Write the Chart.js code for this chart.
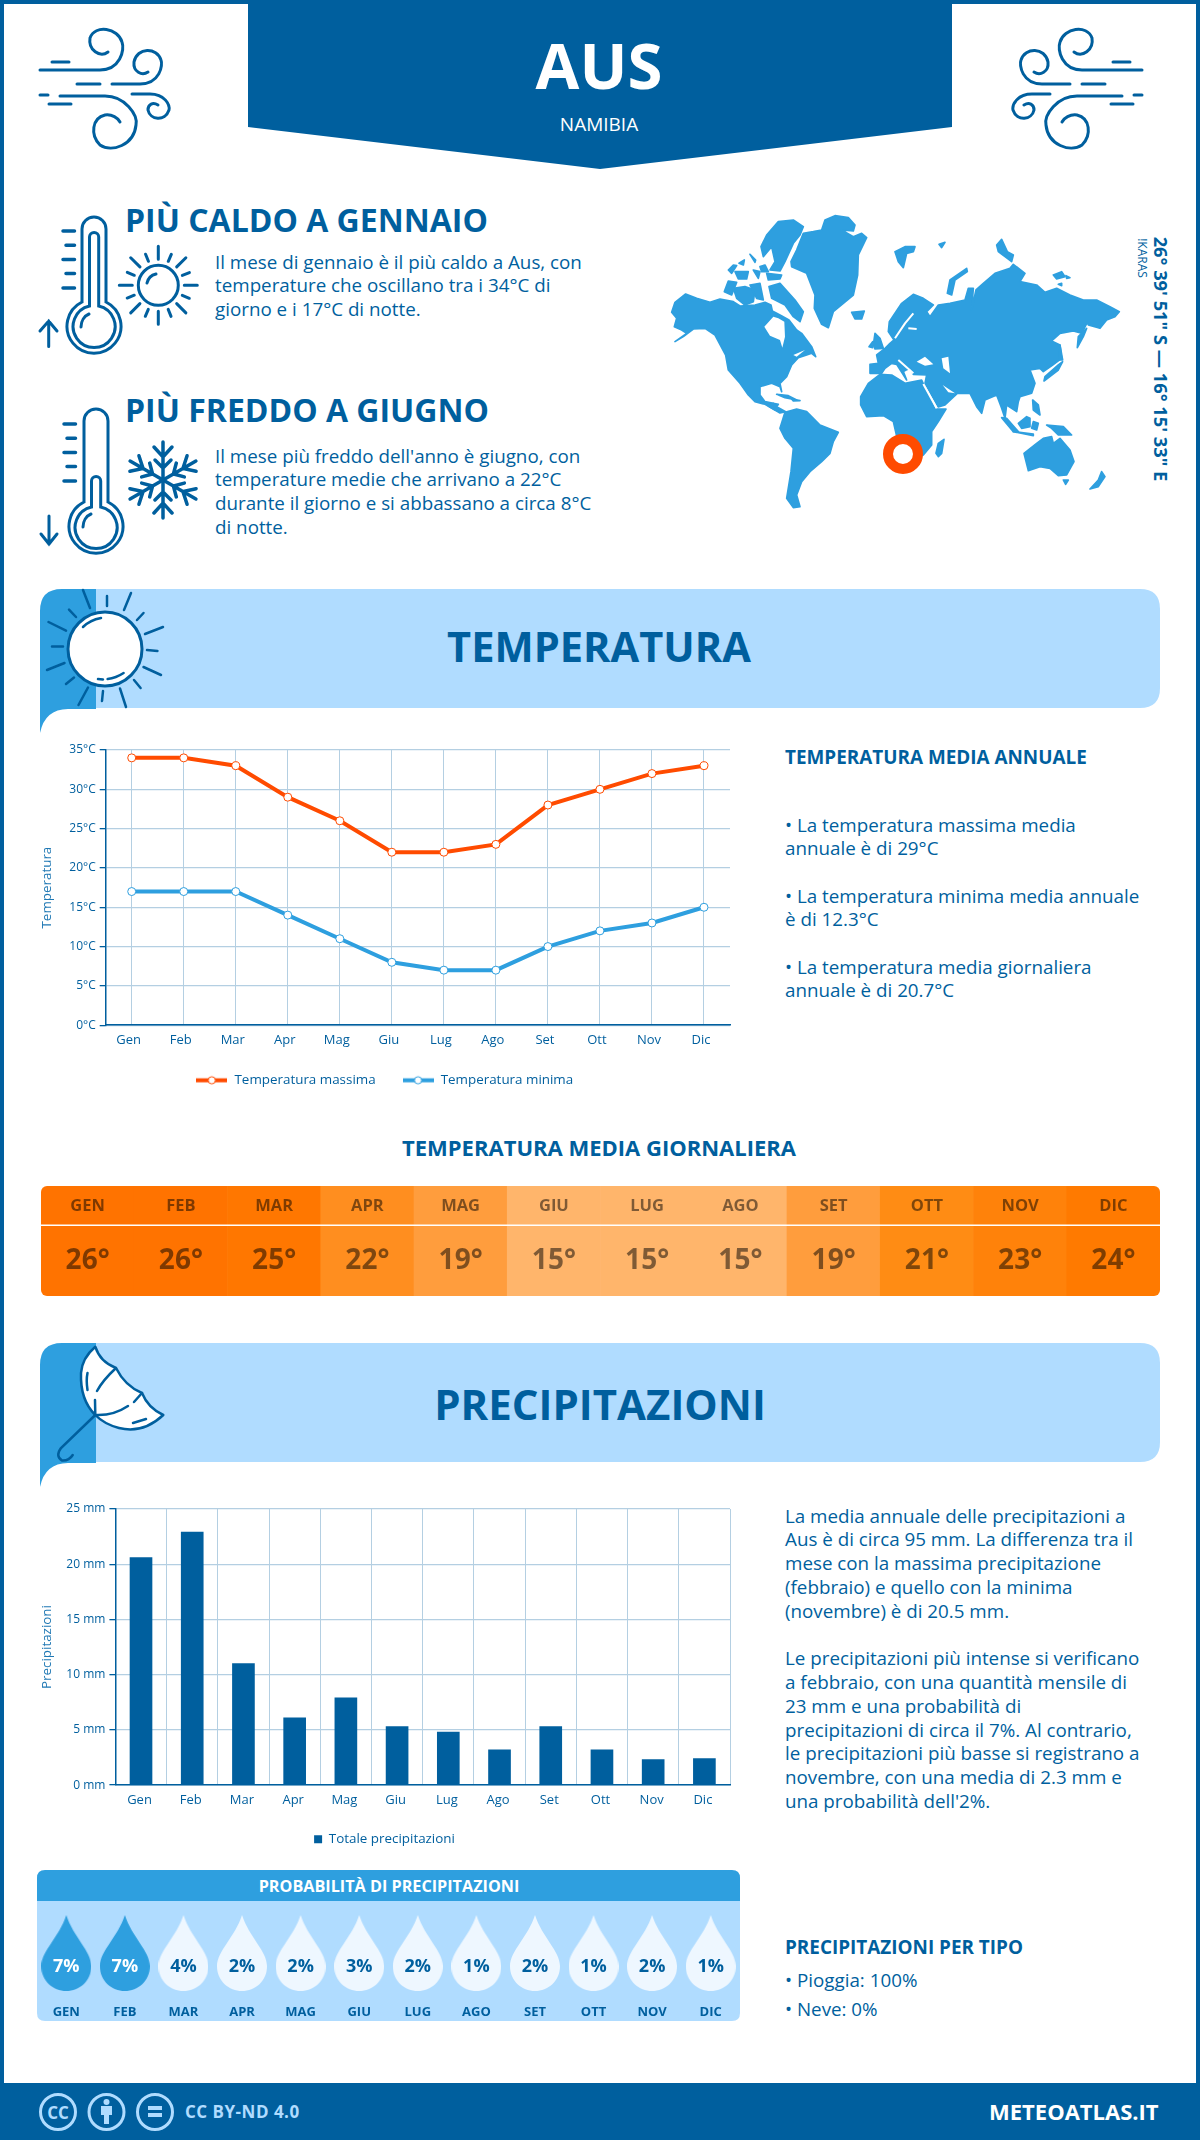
<!DOCTYPE html>
<html lang="it">
<head>
<meta charset="utf-8">
<title>Aus - Namibia</title>
<script src="https://cdn.jsdelivr.net/npm/chart.js@4"></script>
<style>
  html, body { margin: 0; padding: 0; background: #fff; }
  #page { position: relative; width: 1200px; height: 2140px; overflow: hidden; font-family: "Open Sans", sans-serif; color: #005f9e; }
  #art { position: absolute; left: 0; top: 0; }
  canvas { position: absolute; }
  .t { position: absolute; white-space: nowrap; line-height: 1; }
  .b { font-weight: 700; }
  .c { transform: translate(-50%, -50%); }
  .m { transform: translateY(-50%); }
  .body { font-size: 18.8px; }
  #heatChart { border-radius: 6px; }
</style>
</head>
<body>
<div id="page">

<svg id="art" width="1200" height="2140" viewBox="0 0 1200 2140">
  <defs>
    <g id="wind" fill="none" stroke="#005f9e" stroke-width="3" stroke-linecap="round">
      <path d="M40 70H100C120 70 125 50 122 42C118 28 95 24 90 38C88 50 100 58 108 52"/>
      <path d="M52 62H69"/>
      <path d="M77 84H100"/>
      <path d="M112 84H140C160 84 163 65 161 60C157 47 137 47 134 62C133 72 142 76 148 72"/>
      <path d="M40 95H48"/>
      <path d="M60 96H105C125 96 138 115 136 125C134 145 112 153 100 145C90 135 92 118 105 115C112 114 118 118 120 122"/>
      <path d="M49 104H71"/>
      <path d="M132 94H150C165 94 170 105 169 110C165 122 150 120 148 110C148 104 153 102 158 105"/>
    </g>
    <g id="ticks" stroke="#005f9e" stroke-width="3.5" stroke-linecap="round">
      <path d="M63 0H74.500M66 14.300H74.500M63 28.600H74.500M66 42.600H74.500M63 57H74.500"/>
    </g>
    <g id="ray"><path d="M0 -26V-39M10 -24L13 -31" stroke="#005f9e" stroke-width="3" fill="none" stroke-linecap="round"/></g>
    <g id="arm" stroke="#005f9e" stroke-width="3.5" fill="none" stroke-linecap="round">
      <path d="M0 0V-38M-9 -33L0 -23L9 -33M-8 -20L0 -12L8 -20"/>
    </g>
    <g id="banner">
      <path d="M96 589H1140Q1160 589 1160 609V688Q1160 708 1140 708H96Z" fill="#b0dcff"/>
      <path d="M40 733V611Q40 589 62 589H96V709H68Q45 709 40 733Z" fill="#2e9fdf"/>
    </g>
  </defs>

  <!-- frame and header -->
  <path d="M2 2H1198V2140H2Z" fill="none" stroke="#005f9e" stroke-width="4"/>
  <path d="M248 0H952V127L600 169L248 127Z" fill="#005f9e"/>
  <use href="#wind"/>
  <use href="#wind" transform="translate(1182 0) scale(-1 1)"/>

  <!-- hot thermometer -->
  <g fill="none" stroke="#005f9e" stroke-width="3">
    <path d="M82 302V229A12 12 0 0 1 106 229V302A27 27 0 1 1 82 302Z"/>
    <path d="M89.500 306V237A4.600 4.600 0 0 1 98.700 237V306A21 21 0 1 1 89.500 306Z"/>
    <path d="M81 327A12 14 0 0 1 89 314" stroke-linecap="round"/>
    <path d="M48.700 346.500V321M40 331L48.700 321L57 331" stroke-linecap="round"/>
    <circle cx="158.300" cy="285.300" r="20"/>
    <path d="M147 283A12 12 0 0 1 156 274" stroke-linecap="round"/>
  </g>
  <use href="#ticks" transform="translate(0 231)"/>
  <g transform="translate(158.300 285.300)">
    <use href="#ray"/><use href="#ray" transform="rotate(45)"/><use href="#ray" transform="rotate(90)"/>
    <use href="#ray" transform="rotate(135)"/><use href="#ray" transform="rotate(180)"/><use href="#ray" transform="rotate(225)"/>
    <use href="#ray" transform="rotate(270)"/><use href="#ray" transform="rotate(315)"/>
  </g>

  <!-- cold thermometer -->
  <g fill="none" stroke="#005f9e" stroke-width="3">
    <path d="M84 502V421A12 12 0 0 1 108 421V502A27 27 0 1 1 84 502Z"/>
    <path d="M91.500 507V481A4.600 4.600 0 0 1 100.700 481V507A21 21 0 1 1 91.500 507Z"/>
    <path d="M83 527A12 14 0 0 1 91 514" stroke-linecap="round"/>
    <path d="M49 516V544M41 534L49 544L57 534" stroke-linecap="round"/>
  </g>
  <use href="#ticks" transform="translate(1 424)"/>
  <g transform="translate(163 480)">
    <use href="#arm"/><use href="#arm" transform="rotate(60)"/><use href="#arm" transform="rotate(120)"/>
    <use href="#arm" transform="rotate(180)"/><use href="#arm" transform="rotate(240)"/><use href="#arm" transform="rotate(300)"/>
  </g>

  <!-- world map, traced by hand: Americas and Greenland -->
  <g transform="translate(665 205) scale(0.3333)" fill="#2e9fdf" stroke="#2e9fdf" stroke-width="5" stroke-linejoin="round">
    <path d="M20 322L30 292L62 267L95 280L135 292L165 282L205 290L225 303L270 300L300 292L318 300L322 318L345 330L372 345L395 375L410 385L425 405L440 425L452 455L440 445L425 450L400 458L380 480L365 515L345 535L350 560L345 545L320 535L285 545L285 570L300 590L325 595L345 620L330 615L300 598L270 590L250 570L225 535L190 495L182 450L150 390L120 370L85 372L55 395L30 410L65 385L50 375L28 365L35 340Z"/>
    <path d="M325 595L340 598L335 605L362 620L345 624L310 603Z"/>
    <path d="M345 670L360 622L395 612L425 620L465 660L520 682L505 710L495 745L470 770L435 800L410 830L395 870L405 905L385 908L365 880L378 800L385 730L360 700Z"/>
    <path d="M378 170L395 135L415 85L445 80L470 75L480 45L510 32L550 38L570 60L565 78L530 75L565 95L590 85L605 98L580 150L578 210L565 270L535 295L505 320L490 368L470 358L448 310L450 270L425 205L380 185Z"/>
    <path d="M305 90L340 50L385 45L415 65L405 90L385 115L360 170L345 198L315 195L330 170L320 125L295 155L288 125Z"/>
    <path d="M312 245L345 235L390 285L415 320L405 350L385 335L360 300L320 280Z"/>
    <path d="M205 250L240 245L270 255L265 290L240 300L215 280Z"/>
    <path d="M178 260L190 228L215 232L200 270Z"/>
    <path d="M255 240L285 235L295 285L275 280Z"/>
    <path d="M305 205L350 210L345 222L310 225Z"/>
    <path d="M210 200L250 200L245 222L220 222Z"/>
    <path d="M265 195L285 200L280 220Z"/>
    <path d="M190 195L205 180L215 182L200 205Z"/>
    <path d="M222 175L238 165L235 180Z"/>
    <path d="M255 148L272 165L270 172Z"/>
    <path d="M285 185L300 180L310 200L290 200Z"/>
    <path d="M560 322L598 318L590 342L570 342Z"/>
    <path d="M335 568L370 572L395 585L360 578Z"/>
    <path d="M380 582L405 587L385 588Z"/>
    <g fill="#fff" stroke="none">
      <path d="M298 365L325 335L340 340L358 350L360 395L352 428L345 405L315 392Z"/>
      <path d="M385 450L420 435L395 455Z"/>
      <path d="M215 530L240 565L236 566L212 532Z"/>
    </g>
  </g>

  <!-- world map: Europe, Africa, Asia and Oceania -->
  <g transform="translate(870 205) scale(0.3333)" fill="#2e9fdf" stroke="#2e9fdf" stroke-width="5" stroke-linejoin="round">
    <path d="M0 505L0 478L25 475L20 450L45 430L60 415L72 405L55 380L58 350L95 295L130 268L160 280L190 300L170 320L180 335L205 300L240 295L285 285L295 250L310 250L305 315L318 255L340 235L375 205L420 190L430 178L465 205L450 230L500 240L525 262L560 250L600 270L640 285L680 285L720 305L748 320L735 335L710 345L690 370L655 360L652 352L635 385L610 378L570 385L545 408L570 420L575 460L548 480L520 500L510 490L480 495L495 535L485 565L450 575L445 590L440 620L410 600L405 640L395 610L380 570L345 585L335 625L320 605L300 565L262 565L225 600L205 606L165 535L170 510L130 508L122 490L108 495L100 500L110 525L80 478L65 475L45 490L35 505Z"/>
    <path d="M-28 575L-5 535L30 508L65 510L105 535L155 525L195 612L228 612L205 650L185 680L185 720L160 750L100 780L70 650L40 632L-10 635L-28 600Z"/>
    <path d="M222 703L215 745L205 755L198 745L205 715Z"/>
    <path d="M462 745L500 715L520 700L545 695L550 715L570 700L600 735L612 770L590 810L565 812L540 790L510 785L475 797Z"/>
    <path d="M580 825L595 825L587 838Z"/>
    <path d="M660 852L685 825L695 800L705 815L685 845Z"/>
    <path d="M445 655L470 635L480 640L480 665L455 670Z"/>
    <path d="M395 638L410 640L445 680L430 680Z"/>
    <path d="M430 680L490 692L490 687Z"/>
    <path d="M530 660L580 665L605 690L565 690L545 670Z"/>
    <path d="M490 650L505 655L500 675L485 670Z"/>
    <path d="M488 585L505 600L510 630L490 615Z"/>
    <path d="M522 528L565 495L578 470L565 480L525 515Z"/>
    <path d="M570 420L578 465L568 465Z"/>
    <path d="M622 428L625 395L650 370L640 395Z"/>
    <path d="M75 140L105 125L135 125L130 140L110 145L100 188L85 170Z"/>
    <path d="M207 118L225 112L215 128Z"/>
    <path d="M232 265L240 225L290 190L292 200L255 225L245 270Z"/>
    <path d="M380 120L395 103L412 140L430 150L425 170L405 155L385 140Z"/>
    <path d="M550 210L575 200L585 215L560 222Z"/>
    <path d="M588 212L600 218L590 220Z"/>
    <path d="M565 238L575 235L575 242Z"/>
    <path d="M10 420L15 385L30 400L40 430L15 432Z"/>
    <path d="M-3 425L8 410L8 428Z"/>
    <g fill="#fff" stroke="none">
      <path d="M140 470L165 455L190 478L165 482Z"/>
      <path d="M215 460L235 455L240 505L220 490Z"/>
      <path d="M218 540L255 565L235 562Z"/>
    </g>
    <path d="M75 400L105 355L130 325M115 370L140 372M85 465L130 505M160 537L200 610" fill="none" stroke="#fff" stroke-width="6"/>
    <circle cx="99" cy="747" r="45" fill="#fff" stroke="#ff4b00" stroke-width="30"/>
  </g>

  <!-- section banners -->
  <use href="#banner"/>
  <use href="#banner" transform="translate(0 754)"/>

  <!-- big sun -->
  <ellipse cx="105" cy="649" rx="37" ry="37" fill="#fff" stroke="#005f9e" stroke-width="3"/>
  <path d="M83 590L90 608M107 596V606M131 593L124 610M143.500 613L137 620M163 627L145 634M147 650L157.500 651M143.500 667L161 675M134 680L140.600 688M120 688.500L126 707M103 691L102 701M88 687.500L78.500 705M74 677.500L66 684M64.500 663L47 670M63 646.500H52M66 630.600L48.500 622M76 617L69 609.600M83 627Q90 620 101 618M107.600 679Q116 678 123.600 673M98 679L103 679.500" fill="none" stroke="#005f9e" stroke-width="2.500" stroke-linecap="round"/>

  <!-- umbrella -->
  <path d="M95.300 1346.700Q100 1362 116 1368Q125 1386 142 1393Q148 1408 163.300 1415Q143 1434 119 1428Q104 1424 95.300 1415Q80 1400 81 1373Q82 1358 95.300 1346.700Z" fill="#fff" stroke="#005f9e" stroke-width="2.500" stroke-linejoin="round"/>
  <path d="M116 1368Q103 1380 97 1391M95 1400L95.300 1415Q113 1416 128 1406M134 1402L142 1393M87.500 1373Q86 1380 87.500 1390M133 1423L146 1419M95.300 1415L61 1448Q55 1456 62 1460.500Q69 1461 72.700 1455" fill="none" stroke="#005f9e" stroke-width="2.500" stroke-linecap="round"/>

  <!-- probability card -->
  <path d="M45 1870H732Q740 1870 740 1878V1901H37V1878Q37 1870 45 1870Z" fill="#2e9fdf"/>
  <path d="M37 1901H740V2013Q740 2021 732 2021H45Q37 2021 37 2013Z" fill="#b0dcff"/>

  <!-- footer -->
  <rect x="0" y="2083" width="1200" height="57" fill="#005f9e"/>
  <g fill="none" stroke="#b0dcff" stroke-width="3">
    <circle cx="58" cy="2112" r="17.500"/>
    <circle cx="106.500" cy="2112" r="17.500"/>
    <circle cx="155" cy="2112" r="17.500"/>
  </g>
  <g fill="#b0dcff">
    <circle cx="106.500" cy="2102" r="3"/>
    <path d="M101 2106H112V2115H109V2124H104V2115H101Z"/>
    <path d="M148 2106H162V2110H148ZM148 2113H162V2117H148Z"/>
  </g>
</svg>

<div class="t b c" style="left:599px;top:65px;font-size:63.5px;color:#fff">AUS</div>
<div class="t c" style="left:599px;top:124px;font-size:19px;color:#fff">NAMIBIA</div>

<div class="t b m" style="left:125px;top:220px;font-size:32px">PIÙ CALDO A GENNAIO</div>
<div class="t body m" style="left:215px;top:262px">Il mese di gennaio è il più caldo a Aus, con</div>
<div class="t body m" style="left:215px;top:285px">temperature che oscillano tra i 34°C di</div>
<div class="t body m" style="left:215px;top:309px">giorno e i 17°C di notte.</div>

<div class="t b m" style="left:125px;top:410px;font-size:32px">PIÙ FREDDO A GIUGNO</div>
<div class="t body m" style="left:215px;top:456px">Il mese più freddo dell'anno è giugno, con</div>
<div class="t body m" style="left:215px;top:479px">temperature medie che arrivano a 22°C</div>
<div class="t body m" style="left:215px;top:503px">durante il giorno e si abbassano a circa 8°C</div>
<div class="t body m" style="left:215px;top:527px">di notte.</div>

<div class="t b c" style="left:1161px;top:359px;font-size:18.3px;transform:translate(-50%,-50%) rotate(90deg)">26° 39' 51" S — 16° 15' 33" E</div>
<div class="t c" style="left:1142px;top:258px;font-size:12px;transform:translate(-50%,-50%) rotate(90deg)">!KARAS</div>

<div class="t b c" style="left:599px;top:647px;font-size:41.6px">TEMPERATURA</div>
<div class="t b m" style="left:785px;top:757px;font-size:18.9px">TEMPERATURA MEDIA ANNUALE</div>
<div class="t body m" style="left:785px;top:825px">• La temperatura massima media</div>
<div class="t body m" style="left:785px;top:848px">annuale è di 29°C</div>
<div class="t body m" style="left:785px;top:896px">• La temperatura minima media annuale</div>
<div class="t body m" style="left:785px;top:919px">è di 12.3°C</div>
<div class="t body m" style="left:785px;top:967px">• La temperatura media giornaliera</div>
<div class="t body m" style="left:785px;top:990px">annuale è di 20.7°C</div>

<div class="t b c" style="left:599px;top:1147px;font-size:22px">TEMPERATURA MEDIA GIORNALIERA</div>
<div class="t b c" style="left:600px;top:1404px;font-size:42px">PRECIPITAZIONI</div>

<div class="t body m" style="left:785px;top:1516px">La media annuale delle precipitazioni a</div>
<div class="t body m" style="left:785px;top:1539px">Aus è di circa 95 mm. La differenza tra il</div>
<div class="t body m" style="left:785px;top:1563px">mese con la massima precipitazione</div>
<div class="t body m" style="left:785px;top:1587px">(febbraio) e quello con la minima</div>
<div class="t body m" style="left:785px;top:1611px">(novembre) è di 20.5 mm.</div>
<div class="t body m" style="left:785px;top:1658px">Le precipitazioni più intense si verificano</div>
<div class="t body m" style="left:785px;top:1682px">a febbraio, con una quantità mensile di</div>
<div class="t body m" style="left:785px;top:1706px">23 mm e una probabilità di</div>
<div class="t body m" style="left:785px;top:1730px">precipitazioni di circa il 7%. Al contrario,</div>
<div class="t body m" style="left:785px;top:1753px">le precipitazioni più basse si registrano a</div>
<div class="t body m" style="left:785px;top:1777px">novembre, con una media di 2.3 mm e</div>
<div class="t body m" style="left:785px;top:1801px">una probabilità dell'2%.</div>

<div class="t b c" style="left:389px;top:1886px;font-size:16.2px;color:#fff">PROBABILITÀ DI PRECIPITAZIONI</div>

<div class="t b m" style="left:785px;top:1947px;font-size:18.9px">PRECIPITAZIONI PER TIPO</div>
<div class="t body m" style="left:785px;top:1980px">• Pioggia: 100%</div>
<div class="t body m" style="left:785px;top:2009px">• Neve: 0%</div>

<div class="t b c" style="left:58px;top:2112px;font-size:17px;color:#b0dcff">CC</div>
<div class="t b m" style="left:185px;top:2111px;font-size:17px;letter-spacing:0.5px;color:#b0dcff">CC BY-ND 4.0</div>
<div class="t b m" style="left:989px;top:2111px;font-size:22px;color:#fff">METEOATLAS.IT</div>

<canvas id="tempChart" width="715" height="362" style="left:30px;top:735px"></canvas>
<canvas id="heatChart" width="1119" height="110" style="left:41px;top:1186px"></canvas>
<canvas id="rainChart" width="715" height="365" style="left:30px;top:1495px"></canvas>
<canvas id="dropChart" width="703" height="120" style="left:37px;top:1901px"></canvas>
</div>

<script>
const months = ['Gen', 'Feb', 'Mar', 'Apr', 'Mag', 'Giu', 'Lug', 'Ago', 'Set', 'Ott', 'Nov', 'Dic'];
const monthsUpper = ['GEN', 'FEB', 'MAR', 'APR', 'MAG', 'GIU', 'LUG', 'AGO', 'SET', 'OTT', 'NOV', 'DIC'];
const tempMax = [34, 34, 33, 29, 26, 22, 22, 23, 28, 30, 32, 33];
const tempMin = [17, 17, 17, 14, 11, 8, 7, 7, 10, 12, 13, 15];
const tempAvg = [26, 26, 25, 22, 19, 15, 15, 15, 19, 21, 23, 24];
const rainTotal = [20.6, 22.9, 11.0, 6.1, 7.9, 5.3, 4.8, 3.2, 5.3, 3.2, 2.3, 2.4];
const rainChance = [7, 7, 4, 2, 2, 3, 2, 1, 2, 1, 2, 1];

const BLUE = '#005f9e';
const SKY = '#2e9fdf';
const ORANGE = '#ff4b00';
const GRID = '#b4cfe2';
const FONT = '"Open Sans", sans-serif';

Chart.defaults.font.family = FONT;
Chart.defaults.color = BLUE;
Chart.defaults.animation = false;
Chart.defaults.responsive = false;

// colour of a heat strip cell for a given mean temperature
const heatColors = { 15: '#ffb56b', 19: '#ff9d3d', 21: '#ff8c14', 22: '#ff8e1f', 23: '#ff820a', 24: '#ff7a00', 25: '#ff7700', 26: '#ff7300' };

// legend swatch: short thick line with a dot on it
function swatch(color) {
    const c = document.createElement('canvas');
    c.width = 31; c.height = 11;
    const g = c.getContext('2d');
    g.fillStyle = color;
    g.fillRect(0, 3.5, 31, 4);
    g.beginPath();
    g.arc(15.5, 5.5, 3.6, 0, Math.PI * 2);
    g.fillStyle = '#fff';
    g.fill();
    g.strokeStyle = color;
    g.lineWidth = 1;
    g.stroke();
    return c;
}

function drop(color) {
    const c = document.createElement('canvas');
    c.width = 50; c.height = 76;
    const g = c.getContext('2d');
    g.beginPath();
    g.moveTo(25, 0);
    g.bezierCurveTo(32, 22, 50, 36, 50, 51);
    g.bezierCurveTo(50, 66, 38, 76, 25, 76);
    g.bezierCurveTo(12, 76, 0, 66, 0, 51);
    g.bezierCurveTo(0, 36, 18, 22, 25, 0);
    g.fillStyle = color;
    g.fill();
    return c;
}
const dropFull = drop(SKY);
const dropPale = drop('#eef7ff');

function lineSet(label, data, color) {
    return {
        label, data,
        borderColor: color,
        borderWidth: 4,
        backgroundColor: color,
        tension: 0,
        pointRadius: 4,
        pointBorderWidth: 1,
        pointBackgroundColor: '#fff',
        pointBorderColor: color,
        pointStyle: 'circle'
    };
}

function axisOptions(title, leftWidth, bottomHeight, tickText, step, max, gridOffset, labelShift, labelPad) {
    return {
        x: {
            offset: true,
            afterFit: s => { s.height = bottomHeight; },
            border: { color: BLUE, width: 1.5 },
            grid: { color: GRID, drawTicks: false, offset: gridOffset },
            ticks: { font: { size: 13, lineHeight: 1 }, color: BLUE, padding: labelPad, labelOffset: labelShift, maxRotation: 0, autoSkip: false }
        },
        y: {
            min: 0, max,
            afterFit: s => { s.width = leftWidth; },
            border: { color: BLUE, width: 1.5 },
            grid: { color: GRID, lineWidth: 1.3, tickColor: BLUE, tickLength: 6 },
            ticks: { stepSize: step, font: { size: 12 }, color: BLUE, padding: 4, callback: tickText },
            title: { display: true, text: title, color: '#1f78b4', font: { size: 13.4 }, padding: { top: 0, bottom: 2 } }
        }
    };
}

new Chart(document.getElementById('tempChart'), {
    type: 'line',
    data: {
        labels: months,
        datasets: [
            lineSet('Temperatura massima', tempMax, ORANGE),
            lineSet('Temperatura minima', tempMin, SKY)
        ]
    },
    options: {
        layout: { padding: { left: 9, right: 15, top: 15, bottom: 0 } },
        scales: axisOptions('Temperatura', 66.7, 22, v => v + '°C', 5, 35, false, -3, 8.5),
        plugins: {
            tooltip: { enabled: false },
            legend: {
                position: 'bottom',
                labels: {
                    font: { size: 13.4 }, color: BLUE, padding: 26.4,
                    usePointStyle: true, pointStyleWidth: 32,
                    generateLabels: chart => chart.data.datasets.map((d, i) => ({
                        text: d.label, datasetIndex: i, pointStyle: swatch(d.borderColor), fontColor: BLUE, lineWidth: 0
                    }))
                }
            }
        }
    }
});

new Chart(document.getElementById('rainChart'), {
    type: 'bar',
    data: {
        labels: months,
        datasets: [{ label: 'Totale precipitazioni', data: rainTotal, backgroundColor: BLUE, barThickness: 22 }]
    },
    options: {
        layout: { padding: { left: 9, right: 15, top: 14, bottom: 4 } },
        scales: axisOptions('Precipitazioni', 76.4, 37.5, v => v + ' mm', 5, 25, true, -1.5, 9),
        plugins: {
            tooltip: { enabled: false },
            legend: {
                position: 'bottom',
                labels: { font: { size: 13.4 }, color: BLUE, padding: 10, boxWidth: 8, boxHeight: 8 }
            }
        }
    }
});

// month and value text over the heat strip cells, divider between the two rows
const heatText = {
    id: 'heatText',
    afterDraw(chart) {
        const { ctx, scales: { x } } = chart;
        ctx.save();
        ctx.fillStyle = '#fff';
        ctx.fillRect(0, 38.5, chart.width, 1.5);
        ctx.textAlign = 'center';
        ctx.textBaseline = 'middle';
        tempAvg.forEach((v, i) => {
            const px = x.getPixelForValue(i);
            ctx.fillStyle = 'rgba(0, 0, 0, 0.5)';
            ctx.font = '700 16.5px ' + FONT;
            ctx.fillText(monthsUpper[i], px, 20);
            ctx.font = '700 28px ' + FONT;
            ctx.fillText(v + '°', px, 75);
        });
        ctx.restore();
    }
};

new Chart(document.getElementById('heatChart'), {
    type: 'bar',
    data: {
        labels: monthsUpper,
        datasets: [{
            data: tempAvg,
            backgroundColor: tempAvg.map(v => heatColors[v]),
            barPercentage: 1,
            categoryPercentage: 1,
            borderWidth: 0
        }]
    },
    options: {
        scales: {
            x: { display: false },
            y: { display: false, min: 0, max: 1 }
        },
        plugins: { legend: { display: false }, tooltip: { enabled: false } }
    },
    plugins: [heatText]
});

// percentage inside every drop
const dropText = {
    id: 'dropText',
    afterDraw(chart) {
        const { ctx, scales: { x } } = chart;
        ctx.save();
        ctx.textAlign = 'center';
        ctx.textBaseline = 'middle';
        ctx.font = '700 18px ' + FONT;
        rainChance.forEach((v, i) => {
            ctx.fillStyle = v >= 5 ? '#fff' : BLUE;
            ctx.fillText(v + '%', x.getPixelForValue(i), 66);
        });
        ctx.restore();
    }
};

new Chart(document.getElementById('dropChart'), {
    type: 'line',
    data: {
        labels: monthsUpper,
        datasets: [{
            data: rainChance.map(() => 0),
            showLine: false,
            clip: false,
            pointRadius: 20,
            pointStyle: c => rainChance[c.dataIndex] >= 5 ? dropFull : dropPale
        }]
    },
    options: {
        layout: { autoPadding: false },
        scales: {
            x: {
                offset: true,
                afterFit: s => { s.height = 28; },
                border: { display: false },
                grid: { display: false },
                ticks: { font: { size: 13, weight: '700' }, color: BLUE, padding: 3, maxRotation: 0, autoSkip: false }
            },
            y: { display: false, min: -0.77, max: 1 }
        },
        plugins: { legend: { display: false }, tooltip: { enabled: false } }
    },
    plugins: [dropText]
});
</script>
</body>
</html>
